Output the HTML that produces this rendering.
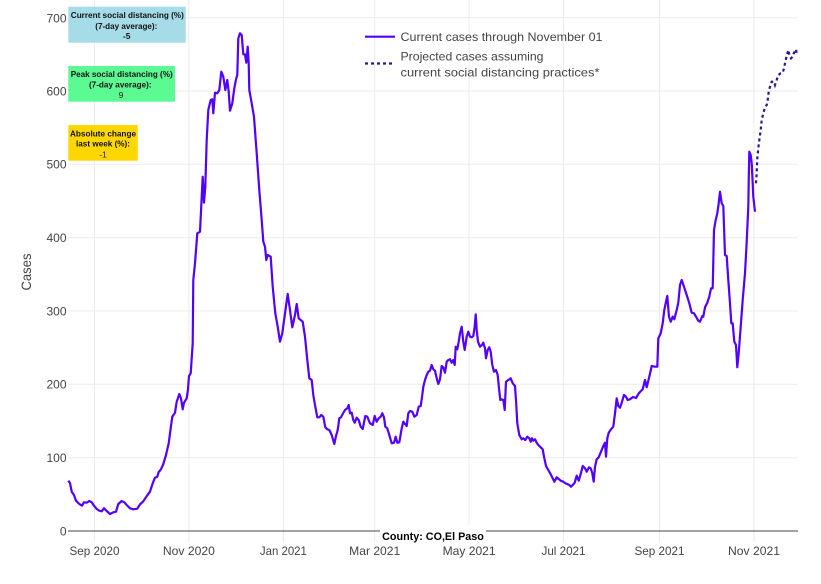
<!DOCTYPE html>
<html><head><meta charset="utf-8"><style>
html,body{margin:0;padding:0;background:#fff;}
svg{display:block;}
text{font-family:"Liberation Sans","DejaVu Sans",sans-serif;}
</style></head><body>
<svg width="821" height="584" viewBox="0 0 821 584" xmlns="http://www.w3.org/2000/svg">
<rect width="821" height="584" fill="#fff"/>
<g stroke="#ebebeb" stroke-width="1">
<line x1="94.5" y1="0" x2="94.5" y2="542"/>
<line x1="188.9" y1="0" x2="188.9" y2="542"/>
<line x1="283.4" y1="0" x2="283.4" y2="542"/>
<line x1="374.7" y1="0" x2="374.7" y2="542"/>
<line x1="469.1" y1="0" x2="469.1" y2="542"/>
<line x1="563.5" y1="0" x2="563.5" y2="542"/>
<line x1="659.5" y1="0" x2="659.5" y2="542"/>
<line x1="754" y1="0" x2="754" y2="542"/>
<line x1="68" y1="17.7" x2="798" y2="17.7"/>
<line x1="68" y1="91" x2="798" y2="91"/>
<line x1="68" y1="164.3" x2="798" y2="164.3"/>
<line x1="68" y1="237.7" x2="798" y2="237.7"/>
<line x1="68" y1="311" x2="798" y2="311"/>
<line x1="68" y1="384.3" x2="798" y2="384.3"/>
<line x1="68" y1="457.7" x2="798" y2="457.7"/>
</g>
<line x1="68" y1="531" x2="798" y2="531" stroke="#444" stroke-width="1"/>

<g fill="#444" font-size="12" text-anchor="end">
<text x="66.5" y="22.5">700</text>
<text x="66.5" y="95.3">600</text>
<text x="66.5" y="168.6">500</text>
<text x="66.5" y="242">400</text>
<text x="66.5" y="315.3">300</text>
<text x="66.5" y="388.6">200</text>
<text x="66.5" y="462">100</text>
<text x="66.5" y="535.3">0</text>
</g>
<text x="31" y="272" fill="#444" font-size="14" text-anchor="middle" transform="rotate(-90 31 272)" textLength="37" lengthAdjust="spacingAndGlyphs">Cases</text>

<g fill="#444" font-size="12" text-anchor="middle">
<text x="94.5" y="555" textLength="50" lengthAdjust="spacingAndGlyphs">Sep 2020</text>
<text x="188.9" y="555" textLength="52" lengthAdjust="spacingAndGlyphs">Nov 2020</text>
<text x="283.4" y="555" textLength="47" lengthAdjust="spacingAndGlyphs">Jan 2021</text>
<text x="374.7" y="555" textLength="51" lengthAdjust="spacingAndGlyphs">Mar 2021</text>
<text x="469.1" y="555" textLength="53" lengthAdjust="spacingAndGlyphs">May 2021</text>
<text x="563.5" y="555" textLength="44" lengthAdjust="spacingAndGlyphs">Jul 2021</text>
<text x="659.5" y="555" textLength="50" lengthAdjust="spacingAndGlyphs">Sep 2021</text>
<text x="754" y="555" textLength="52" lengthAdjust="spacingAndGlyphs">Nov 2021</text>
</g>

<polyline fill="none" stroke="#5200ff" stroke-width="2.2" stroke-linejoin="round" points="
68.3,480.7 70,483 71.7,491.7 74,495 76,500.7 79.3,504 82,505.7 84,502.3 86.7,502.7 89.3,501 91.7,502.3 94,505.7 96.7,509 99.3,510.7 101.7,511.3 104,508.3 106.7,511 110,514 113.3,512.3 116,511.7 118.3,504 121.7,501 124.3,502.3 126.7,505 130,508.3 133.3,509.3 137.3,508.7 140,504.3 143.3,501.3 147.3,495.3 150,491.7 152.7,483.3 155,477.7 157.3,476.7 158.7,472 161,469.3 163.3,464 166,455 168.7,443.3 171,426 172.3,416.7 175,412.7 176.7,401.7 179.3,394 181,398.3 182.7,409.3 184,402.7 186.7,398.3 188,389.3 189,376 190.7,373.3
192.7,343.3 193.3,280 195,263.3 197.3,233.3 200,231.7 202.7,176.7 204,202.7 205.3,186.7 206.7,140 208.3,110 210.7,100 212.3,99.3 213.3,113.3 215,92.7 217.3,93.3 219.3,90 221.3,71.7 223.3,76.7 225.3,90 227.3,80 228.7,91.7 230,110.7 232.3,103.3 234.3,88.3 236,79.3 237.3,75 238.3,38.3 240,33.3 241.7,35 243.3,54.3 245,54.3 246.3,62.7 247.7,46.7 248.7,63.3 249.3,90 251.7,103.3 254,116.7 256.7,153.3 259.3,190 261.7,220 263.3,241.7 265,246.7 266.3,260 267.7,255 270.7,256.7 272.7,286.7 275.3,313.3 277.7,326.7 280,341.7 282.3,333.3 285,313.3 287.7,294 290,310 292.3,327.3 295,315 296.7,304 298.7,318.3 300.7,320
302.7,321.7 305,336.7 307.3,360 309.3,378.3 311.7,380 313.3,395 315,405 317.3,417.3 319.3,417.3 321.3,415 323.3,416.7 325.3,427.3 327.3,429.3 329.3,430 331.7,435 334.3,444 336,436 337.7,430 339.3,418.3 341,417.3 342.7,414 345,410 347.3,408.3 348.7,405 350,413.3 351.7,412.7 353.3,420 354.7,422.7 356.7,417.7 358.7,420 360.7,426.7 362.7,429 365.3,416 367.3,416.7 370,423.3 372.7,425 374.7,416 376.7,421.7 378.7,418.3 380.7,416.7 382.3,413.3 384,417.3 385.3,426.7 387.3,428.3 389.3,435 391.7,443.3 394,442.7 395.7,436.7 397.3,442.7 399.3,442.3 401.7,428.3 403.3,421.7 405,424 406.7,426 408.3,413.3 410,411 412.3,411.7 414.3,416.7 416.7,415 418.7,406.7 420.7,406 422,397.3 423.3,386.7 425,380 426.7,375 428.3,371.7 430,370.7 431.7,365 433.3,369.3 435,370.7 436.7,378.3 438.3,384 440,379.3 441.7,366 443.3,367.3 445,372.7 446.7,361.7 448.3,360 450,359.3 451.7,362.7 453.3,360 454.7,365 455.7,346.7 457.3,349.3 458.7,341.7 460,333.3 461.7,326.7 463.3,341.7 464.7,350 466.7,336.7 468.3,331.7 470,336.7 471.7,337.3 473.3,336 474.7,326.7 475.7,314.3 476.7,330 478,341.7 480,346.7 482,345 483.3,342.7 485,348.3 486,358.3 487.7,350 489.3,347.3 490.7,351.7 492.3,365 494,371.7 496,370 497.7,375 499,388.3 500.3,400 502,399.3 503.3,400 504.7,410 506,381.7 508.3,380 510.7,378.3 512.7,383.3 515,386 516,400 517.3,423.3 519.3,435 521.7,439.3
523.3,438.3 525.3,440 527.3,436.7 529.3,438.3 530.7,441.7 532,438.3 533.3,440.7 535,439.3 536.7,442.7 538.3,445 540.7,447.3 542.7,449.3 544,456.7 546,466 548.3,470 550.7,474.3 552.7,478.3 554.3,481.7 556.7,477.3 558.7,479 560.7,480.7 563.3,481.7 565.3,483.3 567.3,484 569.3,485 571,486.7 572.7,485 574.7,482.7 576.7,475.7 578.7,480.7 580.7,474 582.7,466 585,468.3 586.7,471.7 589,467.3 590.7,468.3 592.3,473.3 593.7,481.7 595,466.7 596.7,459.3 598.7,457.3 601,451.7 603.3,446 605,442.7 606,456.7 607.3,438.3 608.7,432.7 611,429.3 613.3,426.7 615,413.3 616.7,398.3 618.3,406 620,407.7 621.7,402.7 624,395 626,396.7 627.7,400 630,399.3
633,397 636,398 639,393 641,391
642.7,389.3 645,380 646.7,387.3 649.3,376.7 651.7,366 655,366.7 657.3,366.7 658.3,338.3 660.7,333.3 662.7,323.3 664.3,310 666,301.7 667.3,296 669,316.7 670.7,321.7 672.7,316.7 674.3,319.3 676.7,310 678.3,302.7 680,285 681.7,280 684,286.7 686.7,295 689.3,303.3 691.7,312.7 694,313.3 696,316.7 698.3,320.7 700,321.7 702.3,316 703.3,316.7 705,307.3 707.3,302.7 709.3,296.7 711,288.3 712.7,288.3 714,230 715.7,220 717.3,213.3 718.7,203.3 720,191.7 721.7,203.3 723.3,206 725,255 726.7,256 728.3,280 730,303.3 731.3,323.3 732.7,323.3 734.3,341.7 736,345 737.3,367.3 738.7,353.3 740.7,326.7 742.7,300 745,273.3 746.7,241.7 748.3,206.7 748.8,176.7 749.3,151.7 750.7,155 751.7,163.3 752.7,183.3 753.3,196.7 755,211.7"/>

<polyline fill="none" stroke="#2c1590" stroke-width="2.2" stroke-dasharray="3,3" points="756,183.3 756.7,173.3 757.3,158.3 758.3,148.3 759.3,140 760.7,130 761.7,120 763.3,113.3 765,107.3 766.7,105 767.7,100 768.7,91.7 770,86.7 771.7,81.7 774,81.7 775,85 776.7,80 778.3,75 780.7,73.3 782.7,72.7 784,68.3 785.3,61.7 786.7,56 788.3,50 789.3,55 791,58.3 792.7,56.7 794,52.7 796,49.3 796.7,53.3"/>

<!-- legend -->
<line x1="365" y1="36.7" x2="395" y2="36.7" stroke="#5200ff" stroke-width="2.2"/>
<line x1="365" y1="63.5" x2="395" y2="63.5" stroke="#2c1590" stroke-width="2.2" stroke-dasharray="3,3"/>
<g fill="#444" font-size="12">
<text x="400.5" y="41" textLength="202" lengthAdjust="spacingAndGlyphs">Current cases through November 01</text>
<text x="400.5" y="60.3" textLength="143" lengthAdjust="spacingAndGlyphs">Projected cases assuming</text>
<text x="400.5" y="76.6" textLength="199" lengthAdjust="spacingAndGlyphs">current social distancing practices*</text>
</g>

<!-- annotation boxes -->
<rect x="68.3" y="6.7" width="117.4" height="36" fill="#a6dbe8"/>
<rect x="68.3" y="66" width="106.7" height="35.7" fill="#5cfa92"/>
<rect x="68.3" y="125" width="69.4" height="35.7" fill="#ffd700"/>
<g fill="#111" font-size="8.5" text-anchor="middle" font-weight="bold">
<text x="127.3" y="18" textLength="113" lengthAdjust="spacingAndGlyphs">Current social distancing (%)</text>
<text x="126.3" y="29" textLength="62" lengthAdjust="spacingAndGlyphs">(7-day average):</text>
<text x="126.7" y="39">-5</text>
<text x="121.7" y="77" textLength="102" lengthAdjust="spacingAndGlyphs">Peak social distancing (%)</text>
<text x="120.3" y="87.3" textLength="62.7" lengthAdjust="spacingAndGlyphs">(7-day average):</text>
<text x="103" y="136.3" textLength="66" lengthAdjust="spacingAndGlyphs">Absolute change</text>
<text x="103" y="146.3" textLength="54" lengthAdjust="spacingAndGlyphs">last week (%):</text>
</g>
<g fill="#222" font-size="8.5" text-anchor="middle">
<text x="121" y="98">9</text>
<text x="103" y="157.3">-1</text>
</g>

<!-- county label -->
<rect x="380" y="525" width="106" height="19" fill="#fff"/>
<text x="433" y="540" fill="#000" font-size="11" font-weight="bold" text-anchor="middle" textLength="101.7" lengthAdjust="spacingAndGlyphs">County: CO,El Paso</text>
</svg>
</body></html>
